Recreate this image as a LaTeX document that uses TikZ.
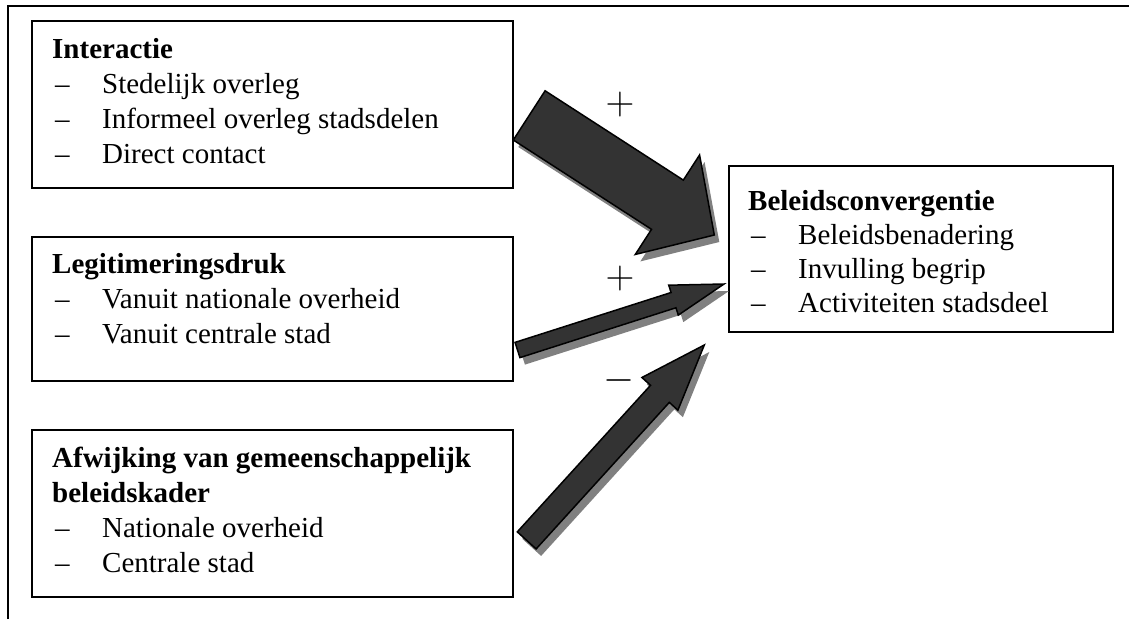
\documentclass[tikz,border=0pt]{standalone}
\usepackage{fix-cm}
\usepackage[no-math]{fontspec}
\setmainfont{Liberation Serif}
\usetikzlibrary{positioning,calc,shadows}
\tikzset{
  box/.style={draw,
    line width=1.8pt,
    anchor=north west,
    inner sep=0pt,
    minimum width=481pt},
  boxtext/.style={anchor=north west,inner sep=0pt,align=left,
    font=\fontsize{29}{35}\selectfont},
  bigarrow/.style={fill=black!80,draw=black,line width=1.5pt,
    drop shadow={shadow xshift=5pt,shadow yshift=-7pt,fill=black!50,opacity=1}},
  sign/.style={inner sep=0pt,font=\fontsize{40}{41}\selectfont},
  frame/.style={line width=2pt}
}
\newcommand{\dashitem}{\hspace*{3pt}\makebox[47pt][l]{\textendash}}
\newcommand{\firstline}{\rule{0pt}{21pt}}
% tail, tip, half shaft, half head, head length
\newcommand{\blockarrow}[5]{%
  \path ($(#2)!#5!(#1)$) coordinate (neck);
  \draw[bigarrow] ($(#1)!#3!90:(#2)$) -- ($(neck)!#3!90:(#2)$)
    -- ($(neck)!#4!90:(#2)$) -- (#2) -- ($(neck)!#4!-90:(#2)$)
    -- ($(neck)!#3!-90:(#2)$) -- ($(#1)!#3!-90:(#2)$) -- cycle;}

\begin{document}
\begin{tikzpicture}[x=1pt,y=-1pt]
  \useasboundingbox (0,0) rectangle (1129,619);
  \draw[frame] (8,619) -- (8,6) -- (1129,6);

  \node[box,minimum height=167pt] (inter) at (31,20) {};
  \node[box,minimum height=144pt] (legit) at (31,236) {};
  \node[box,minimum height=167pt] (afw) at (31,429) {};
  \node[box,minimum height=166pt,minimum width=384pt] (conv) at (728,165) {};

  \node[boxtext,below right=17pt and 21pt of inter.north west] (intertext)
    {\firstline\textbf{Interactie}\\
     \dashitem Stedelijk overleg\\
     \dashitem Informeel overleg stadsdelen\\
     \dashitem Direct contact};
  \node[boxtext,below right=16pt and 21pt of legit.north west] (legittext)
    {\firstline\textbf{Legitimeringsdruk}\\
     \dashitem Vanuit nationale overheid\\
     \dashitem Vanuit centrale stad};
  \node[boxtext,below right=17pt and 21pt of afw.north west] (afwtext)
    {\firstline\textbf{Afwijking van gemeenschappelijk}\\
     \textbf{beleidskader}\\
     \dashitem Nationale overheid\\
     \dashitem Centrale stad};
  \node[boxtext,font=\fontsize{29}{34}\selectfont,
        below right=24pt and 20pt of conv.north west] (convtext)
    {\firstline\textbf{Beleidsconvergentie}\\
     \dashitem Beleidsbenadering\\
     \dashitem Invulling begrip\\
     \dashitem Activiteiten stadsdeel};

  \coordinate (taila) at (529.2,115.4);
  \coordinate (tipa) at (714.3,235);
  \coordinate (tailb) at (517.5,350);
  \coordinate (tipb) at (724,284);
  \coordinate (tailc) at (526.7,540.4);
  \coordinate (tipc) at (704.3,345);
  \blockarrow{taila}{tipa}{29.3pt}{59.2pt}{55.8pt}
  \blockarrow{tailb}{tipb}{8pt}{15.7pt}{53pt}
  \blockarrow{tailc}{tipc}{12.7pt}{24.3pt}{66pt}

  \node[sign] (plusa) at (620,104) {$+$};
  \node[sign] (plusb) at (620,278) {$+$};
  \node[sign] (minc) at (619,380) {$-$};
\end{tikzpicture}
\end{document}
